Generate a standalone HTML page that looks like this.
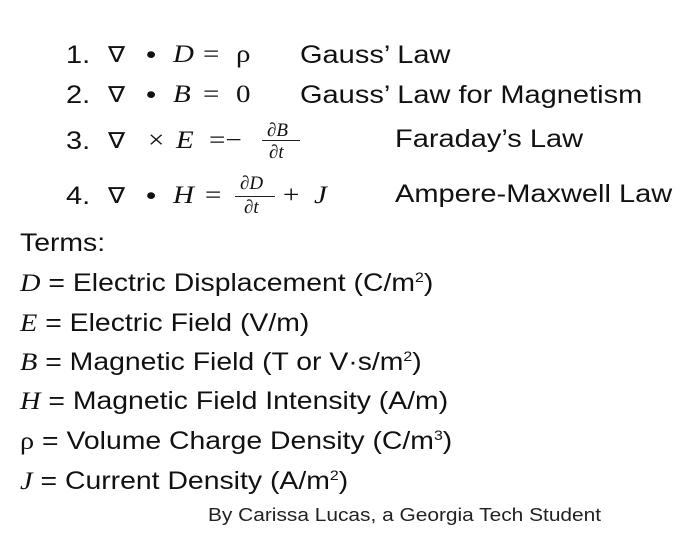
<!DOCTYPE html>
<html><head><meta charset="utf-8"><style>
body{margin:0;width:676px;height:537px;background:#fff;position:relative;overflow:hidden;font-family:"Liberation Sans",sans-serif;color:#111}
.t{position:absolute;font-size:25px;line-height:24px;white-space:nowrap;transform:scaleX(1.16);transform-origin:0 0}
.tt{transform:scaleX(1.135)}
.m{font-family:"Liberation Serif","DejaVu Serif",serif;font-style:italic}
.r{font-family:"Liberation Serif","DejaVu Serif",serif}
.n{font-family:"DejaVu Sans",sans-serif;font-weight:normal;font-size:22px}
.f{position:absolute;font-family:"Liberation Serif","DejaVu Serif",serif;font-style:italic;font-size:19px;line-height:17px}
.bar{position:absolute;height:1px;background:#222}
sup{font-size:14px;line-height:0;vertical-align:9px}
</style></head><body>
<div class="t" style="left:66px;top:43px">1.</div>
<div class="t n" style="left:108px;top:44px">∇</div>
<div class="t" style="left:146px;top:43px">•</div>
<div class="t m" style="left:173px;top:43px">D</div>
<div class="t r" style="left:203px;top:43px">=</div>
<div class="t r" style="left:236px;top:43px">ρ</div>
<div class="t" style="left:300px;top:43px">Gauss’ Law</div>

<div class="t" style="left:66px;top:83px">2.</div>
<div class="t n" style="left:108px;top:84px">∇</div>
<div class="t" style="left:146px;top:83px">•</div>
<div class="t m" style="left:173px;top:83px">B</div>
<div class="t r" style="left:203px;top:83px">=</div>
<div class="t r" style="left:236px;top:83px">0</div>
<div class="t" style="left:300px;top:83px">Gauss’ Law for Magnetism</div>

<div class="t" style="left:66px;top:129px">3.</div>
<div class="t n" style="left:108px;top:130px">∇</div>
<div class="t r" style="left:148px;top:129px">×</div>
<div class="t m" style="left:176px;top:129px">E</div>
<div class="t r" style="left:209px;top:129px">=−</div>
<div class="f" style="left:267px;top:122px">∂B</div>
<div class="bar" style="left:262px;top:140px;width:38px"></div>
<div class="f" style="left:269px;top:144px">∂t</div>
<div class="t" style="left:395px;top:127px">Faraday’s Law</div>

<div class="t" style="left:66px;top:184px">4.</div>
<div class="t n" style="left:108px;top:185px">∇</div>
<div class="t" style="left:146px;top:184px">•</div>
<div class="t m" style="left:173px;top:184px">H</div>
<div class="t r" style="left:205px;top:184px">=</div>
<div class="f" style="left:240px;top:175px">∂D</div>
<div class="bar" style="left:235px;top:196px;width:40px"></div>
<div class="f" style="left:244px;top:199px">∂t</div>
<div class="t r" style="left:283px;top:184px">+</div>
<div class="t m" style="left:314px;top:184px">J</div>
<div class="t" style="left:395px;top:182px">Ampere-Maxwell Law</div>

<div class="t tt" style="left:20px;top:231px">Terms:</div>
<div class="t tt" style="left:20px;top:271px"><span class="m">D</span> = Electric Displacement (C/m<sup>2</sup>)</div>
<div class="t tt" style="left:20px;top:311px"><span class="m">E</span> = Electric Field (V/m)</div>
<div class="t tt" style="left:20px;top:350px"><span class="m">B</span> = Magnetic Field (T or V·s/m<sup>2</sup>)</div>
<div class="t tt" style="left:20px;top:389px"><span class="m">H</span> = Magnetic Field Intensity (A/m)</div>
<div class="t tt" style="left:20px;top:429px"><span class="r">ρ</span> = Volume Charge Density (C/m<sup>3</sup>)</div>
<div class="t tt" style="left:20px;top:469px"><span class="m">J</span> = Current Density (A/m<sup>2</sup>)</div>
<div class="t" style="left:208px;top:506px;font-size:18px;line-height:18px;color:#222">By Carissa Lucas, a Georgia Tech Student</div>
</body></html>
